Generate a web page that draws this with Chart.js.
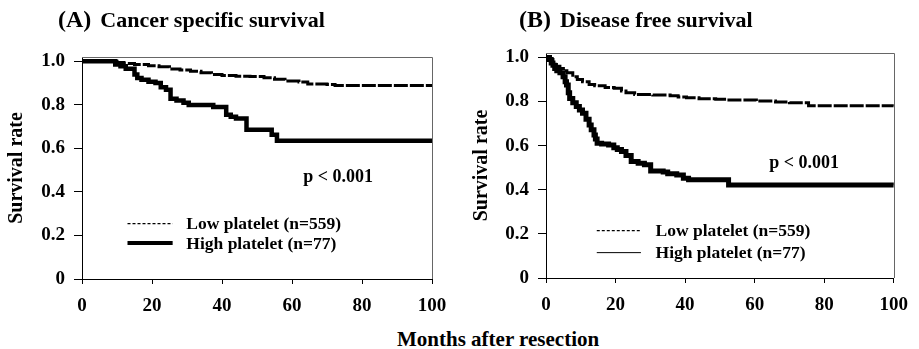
<!DOCTYPE html>
<html>
<head>
<meta charset="utf-8">
<script src="https://cdn.jsdelivr.net/npm/chart.js@4"></script>
<style>
  body { margin: 0; background: #fff; }
  #wrap { position: relative; width: 919px; height: 349px; font-family: "Liberation Serif", serif; font-weight: bold; color: #000; }
  canvas { position: absolute; top: 0; }
  .ttl { position: absolute; white-space: nowrap; line-height: 1; font-size: 22px; }
  .ttl span { font-size: 24px; margin-right: 9px; }
</style>
</head>
<body>
<div id="wrap">
  <canvas id="chartA" width="459" height="320" style="left:0"></canvas>
  <canvas id="chartB" width="460" height="320" style="left:459px"></canvas>
  <div class="ttl" style="left:58px; top:7px"><span>(A)</span>Cancer specific survival</div>
  <div class="ttl" style="left:519px; top:7px"><span>(B)</span>Disease free survival</div>
  <div class="ttl" style="left:397px; top:329px; font-size:21px">Months after resection</div>
</div>
<script>
// Axis ticks
const xTicks = [0, 20, 40, 60, 80, 100];
const yTicks = [0, 0.2, 0.4, 0.6, 0.8, 1.0];
const groups = ['Low platelet (n=559)', 'High platelet (n=77)'];
const pText = 'p < 0.001';

// (A) Cancer specific survival
const aLowMonths = [0, 9, 10, 12, 15, 19, 22, 25, 28, 31, 34, 37, 40, 44, 48, 52, 55, 58, 62, 64.5, 70, 72.3, 100];
const aLowSurv   = [1.0, 1.0, 0.995, 0.99, 0.985, 0.98, 0.975, 0.965, 0.96, 0.954, 0.948, 0.94, 0.935, 0.932, 0.93, 0.925, 0.918, 0.91, 0.905, 0.896, 0.894, 0.889, 0.888];
const aHighMonths = [0, 9.5, 11, 12.5, 15, 15.8, 17, 19, 21, 22.5, 24, 25.3, 27, 29, 30.5, 37.5, 41.2, 42.5, 44, 47, 54.2, 55.7, 100];
const aHighSurv   = [1.0, 0.985, 0.977, 0.966, 0.94, 0.924, 0.916, 0.906, 0.9, 0.881, 0.87, 0.828, 0.82, 0.81, 0.8, 0.79, 0.755, 0.746, 0.737, 0.686, 0.663, 0.635, 0.635];

// (B) Disease free survival
const bLowMonths = [0, 1, 2, 3, 4, 5, 6, 7.7, 9, 10.5, 12.4, 14, 17, 19.6, 21.7, 23, 25.5, 30.7, 35.7, 38, 40.4, 44, 48.8, 52, 60.5, 66, 70, 75.5, 100];
const bLowSurv   = [1.0, 0.99, 0.975, 0.96, 0.95, 0.94, 0.93, 0.912, 0.9, 0.89, 0.877, 0.872, 0.864, 0.86, 0.848, 0.84, 0.832, 0.83, 0.826, 0.82, 0.817, 0.813, 0.81, 0.807, 0.802, 0.798, 0.795, 0.781, 0.78];
const bHighMonths = [0, 1, 1.5, 2, 2.5, 3.1, 4, 4.9, 5.5, 5.9, 6.4, 6.8, 7.7, 8.7, 9.6, 10.5, 11.5, 12.4, 13, 13.8, 14.2, 14.7, 16, 18, 19.5, 20.5, 21.7, 23, 24.5, 26.5, 28.3, 30.1, 33.7, 35, 37.6, 39.5, 41, 48.8, 52.5, 100];
const bHighSurv   = [1.0, 0.99, 0.975, 0.965, 0.95, 0.94, 0.93, 0.912, 0.89, 0.875, 0.84, 0.814, 0.795, 0.777, 0.762, 0.747, 0.72, 0.694, 0.672, 0.648, 0.63, 0.611, 0.607, 0.603, 0.59, 0.582, 0.573, 0.555, 0.528, 0.52, 0.513, 0.485, 0.48, 0.473, 0.467, 0.452, 0.445, 0.445, 0.422, 0.42];

const serif = 'Liberation Serif';
const toPoints = (xs, ys) => xs.map((x, i) => ({ x: x, y: ys[i] }));

// draws the top/right frame, the p value and the in-plot legend
const decor = {
  id: 'decor',
  afterDraw(chart, args, o) {
    const { ctx, chartArea: ca, scales: { x, y } } = chart;
    ctx.save();
    ctx.strokeStyle = '#666';
    ctx.lineWidth = 1;
    ctx.beginPath();
    ctx.moveTo(ca.left, Math.round(ca.top) + 0.5);
    ctx.lineTo(Math.round(ca.right) + 0.5, Math.round(ca.top) + 0.5);
    ctx.lineTo(Math.round(ca.right) + 0.5, ca.bottom);
    ctx.stroke();

    ctx.fillStyle = '#000';
    ctx.textBaseline = 'middle';
    ctx.font = 'bold 18px "' + serif + '"';
    ctx.textAlign = 'center';
    ctx.fillText(pText, x.getPixelForValue(o.p[0]), y.getPixelForValue(o.p[1]));

    ctx.textAlign = 'left';
    ctx.font = 'bold 17.5px "' + serif + '"';
    o.legend.forEach((it, i) => {
      const py = y.getPixelForValue(it.y);
      ctx.strokeStyle = '#000';
      ctx.lineWidth = it.width;
      ctx.setLineDash(it.dash);
      ctx.beginPath();
      ctx.moveTo(x.getPixelForValue(o.lineFrom), py);
      ctx.lineTo(x.getPixelForValue(o.lineTo), py);
      ctx.stroke();
      ctx.setLineDash([]);
      ctx.fillText(groups[i], x.getPixelForValue(o.textAt), py + 1);
    });
    ctx.restore();
  }
};

function makeChart(id, cfg) {
  new Chart(document.getElementById(id), {
    type: 'line',
    data: {
      datasets: [
        { label: groups[0], data: toPoints(cfg.low[0], cfg.low[1]), borderColor: '#000', borderWidth: 3, borderDash: [14, 2], stepped: true, pointRadius: 0, fill: false },
        { label: groups[1], data: toPoints(cfg.high[0], cfg.high[1]), borderColor: '#000', borderWidth: cfg.highWidth, stepped: true, pointRadius: 0, fill: false }
      ]
    },
    options: {
      responsive: false,
      animation: false,
      devicePixelRatio: 1,
      layout: { padding: cfg.pad },
      plugins: {
        legend: { display: false },
        tooltip: { enabled: false },
        decor: cfg.decor
      },
      scales: {
        x: {
          type: 'linear', min: 0, max: 100,
          afterBuildTicks: s => { s.ticks = xTicks.map(v => ({ value: v })); },
          afterFit: s => { s.height = 35; },
          grid: { drawOnChartArea: false, tickLength: 5, color: '#000' },
          border: { color: '#000', width: 1 },
          ticks: { color: '#000', padding: 11, maxRotation: 0, font: { family: serif, size: 19, weight: 'bold' } }
        },
        y: {
          min: 0, max: 1.02,
          afterBuildTicks: s => { s.ticks = yTicks.map(v => ({ value: v })); },
          afterFit: s => { s.width = cfg.yWidth; },
          grid: { drawOnChartArea: false, tickLength: 8, color: '#000' },
          border: { color: '#000', width: 1 },
          ticks: { color: '#000', padding: 9, callback: v => v === 0 ? '0' : v.toFixed(1), font: { family: serif, size: 19, weight: 'bold' } },
          title: { display: true, text: 'Survival rate', color: '#000', padding: { top: cfg.titlePad, bottom: 0 }, font: { family: serif, size: 20, weight: 'bold' } }
        }
      }
    },
    plugins: [decor]
  });
}

makeChart('chartA', {
  low: [aLowMonths, aLowSurv],
  high: [aHighMonths, aHighSurv],
  highWidth: 4.5,
  pad: { left: 0, top: 57, right: 27, bottom: 6 },
  yWidth: 82, titlePad: 5,
  decor: {
    p: [73.2, 0.466],
    lineFrom: 13, lineTo: 25.9, textAt: 29.8,
    legend: [ { y: 0.254, width: 1.2, dash: [3, 2] }, { y: 0.165, width: 4, dash: [] } ]
  }
});

makeChart('chartB', {
  low: [bLowMonths, bLowSurv],
  high: [bHighMonths, bHighSurv],
  highWidth: 5,
  pad: { left: 0, top: 53, right: 16, bottom: 7 },
  yWidth: 87, titlePad: 11,
  decor: {
    p: [74.2, 0.52],
    lineFrom: 14.6, lineTo: 27.3, textAt: 31.5,
    legend: [ { y: 0.215, width: 1.2, dash: [3, 2] }, { y: 0.115, width: 1, dash: [] } ]
  }
});
</script>
</body>
</html>
